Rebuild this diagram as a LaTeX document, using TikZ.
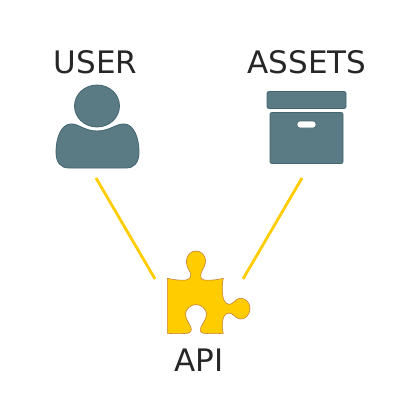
\documentclass[tikz,border=0pt]{standalone}
\usepackage{fontspec}
\setmainfont{DejaVu Sans}
\usepackage{tikz}
\usetikzlibrary{positioning}
\definecolor{iconFill}{HTML}{5A7A84}
\definecolor{iconBorder}{HTML}{41666F}
\definecolor{apiFill}{HTML}{FFCC00}
\definecolor{apiBorder}{HTML}{C8813A}
\definecolor{labelText}{HTML}{262626}

\begin{document}
\begin{tikzpicture}[
  x=1pt, y=-1pt,
  label/.style={font=\fontsize{31}{31}\selectfont, text=labelText, inner sep=0pt, anchor=base},
  icon/.style={fill=iconFill, draw=iconBorder, line width=0.8pt},
  piece/.style={fill=apiFill, draw=apiBorder, line width=0.6pt},
  link/.style={draw=apiFill, line width=2.8pt}
]
  \useasboundingbox (0,0) rectangle (420,420);

  % Nodes
  \node (userLabel) [label] at (95.5,74) {USER};
  \node (assetsLabel) [label] at (307,74) {ASSETS};
  \node (apiLabel) [label] at (199,371) {API};

  % User icon
  \draw [icon] (97,106) ellipse [x radius=22.5, y radius=21];
  \draw [icon] (70,124) .. controls (78,123) and (84,131) .. (97,131)
    .. controls (110,131) and (117,123) .. (125,124)
    .. controls (134,125) and (139,138) .. (139,152)
    .. controls (139,163) and (134,168) .. (126,168)
    -- (69,168)
    .. controls (61,168) and (56,163) .. (56,152)
    .. controls (56,138) and (61,125) .. (70,124) -- cycle;

  % Assets icon
  \draw [icon, rounded corners=2pt] (267,91.5) rectangle (346,108.5);
  \draw [icon, rounded corners=2pt] (270,112.5) rectangle (343,163.5);
  \draw [fill=white, draw=iconBorder, line width=0.6pt, rounded corners=3pt] (297,121) rectangle (316,128);

  % API piece
  \draw [piece] (167.3,278.3) .. controls (174,280) and (181,280.5) .. (186,280)
    .. controls (191,279) and (191.5,275) .. (190,272)
    .. controls (187.5,268) and (186,264) .. (186.5,260)
    .. controls (187,255) and (191,251) .. (196,251)
    .. controls (201,251) and (205,255) .. (205.5,260)
    .. controls (206,264) and (203.5,268) .. (201.5,272)
    .. controls (200,276) and (200.5,279) .. (204,280)
    .. controls (210,280.5) and (217,280) .. (223.3,278.3)
    .. controls (222,284) and (222,290) .. (222.7,295)
    .. controls (223.5,303) and (228,306) .. (232,303.5)
    .. controls (235,301) and (237,298.3) .. (241,298.3)
    .. controls (246,298.3) and (250,303) .. (250,308.5)
    .. controls (250,314) and (246,319) .. (241,319)
    .. controls (237,319) and (235,316) .. (232,314)
    .. controls (228,311.5) and (223.5,314) .. (222.7,321)
    .. controls (222,325) and (222,329) .. (223.3,333.3)
    .. controls (217,333.8) and (210,333.8) .. (204,333.3)
    .. controls (200,332.5) and (199.5,330) .. (201,327)
    .. controls (203,323) and (206.5,319) .. (206.5,314)
    .. controls (206.5,309) and (201,304.5) .. (196,304.5)
    .. controls (191,304.5) and (185.5,309) .. (185.5,314)
    .. controls (185.5,319) and (189,323) .. (190.8,327)
    .. controls (192,330) and (191,332.5) .. (187.5,333.3)
    .. controls (181,333.8) and (174,333.8) .. (167.3,333.3)
    -- cycle;

  \coordinate (userEnd) at (96,178);
  \coordinate (assetsEnd) at (302,178);
  \coordinate (apiLeft) at (155,279);
  \coordinate (apiRight) at (243,279);

  % Connectors
  \draw [link] (userEnd) -- (apiLeft);
  \draw [link] (assetsEnd) -- (apiRight);
\end{tikzpicture}
\end{document}
